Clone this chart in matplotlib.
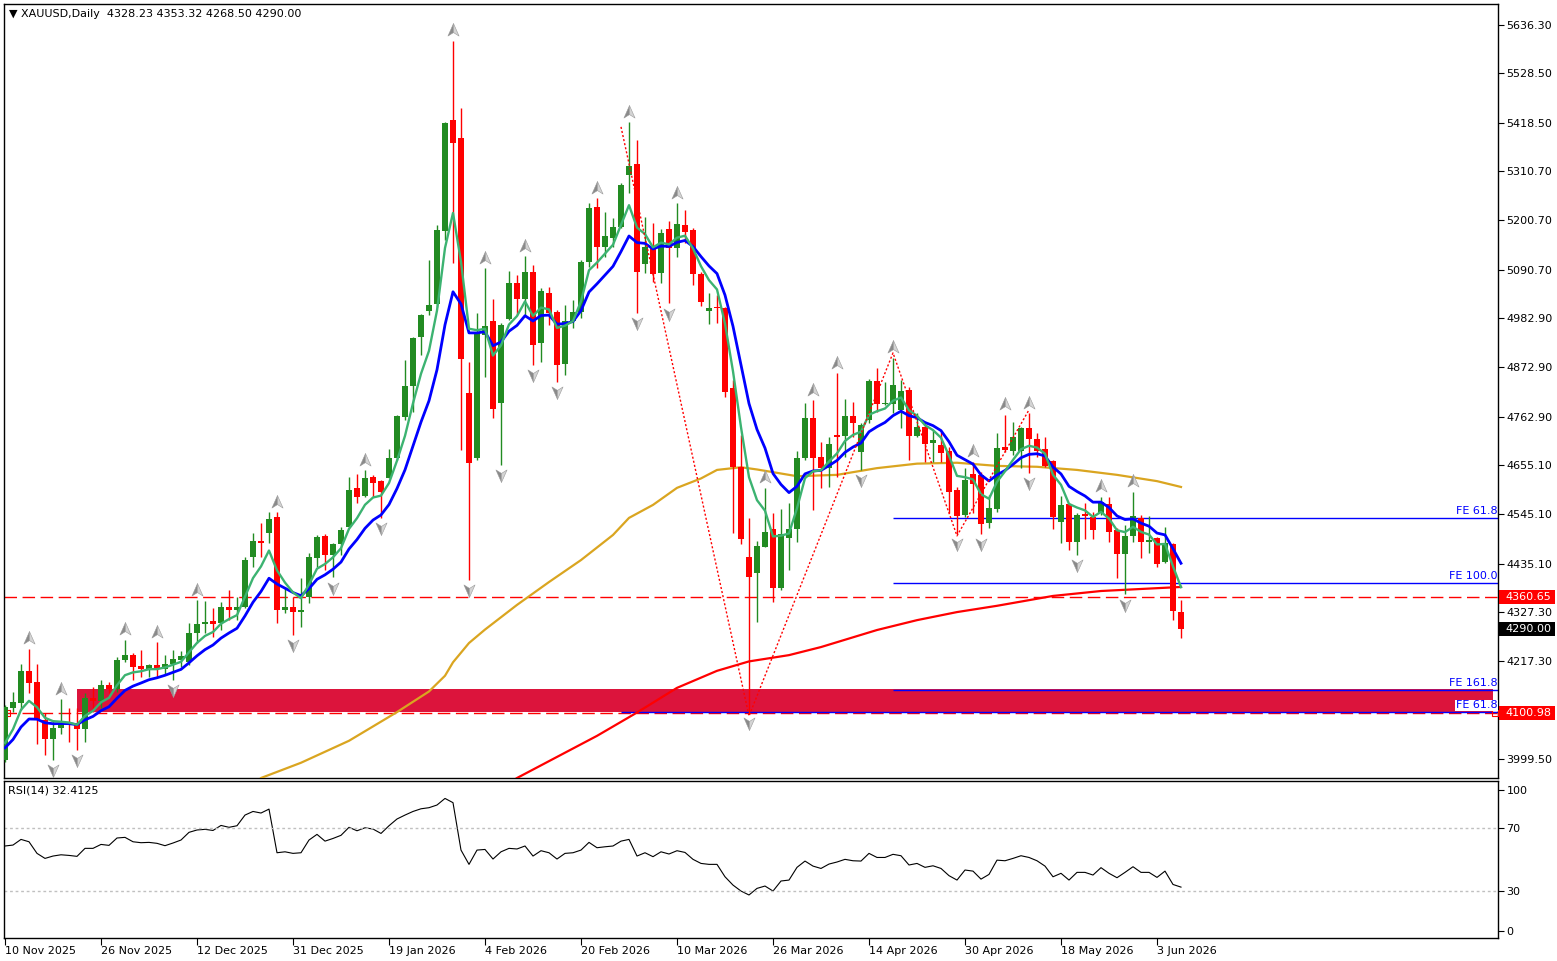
import numpy as np
import matplotlib
matplotlib.use("Agg")
import matplotlib.pyplot as plt
from matplotlib.path import Path
from matplotlib.patches import Rectangle
from matplotlib.transforms import offset_copy, blended_transform_factory

# daily candles, index 0 = 10 Nov 2025
opens = [3997, 4113, 4124, 4196, 4171, 4086, 4044, 4069, 4080, 4077,
         4066, 4135, 4129, 4164, 4156, 4220, 4231, 4207, 4200, 4209,
         4200, 4211, 4220, 4216, 4280, 4300, 4307, 4303, 4338, 4332,
         4338, 4450, 4486, 4503, 4539, 4332, 4338, 4327, 4361, 4448,
         4497, 4455, 4479, 4517, 4604, 4586, 4628, 4619, 4626, 4671,
         4762, 4831, 4940, 4998, 5014, 5177, 5424, 5384, 4816, 4671,
         4945, 4976, 4793, 4981, 5061, 5025, 5085, 4927, 5039, 4996,
         4880, 4976, 4996, 5108, 5230, 5141, 5161, 5186, 5302, 5326,
         5103, 5141, 5083, 5181, 5139, 5190, 5179, 5081, 4998, 5007,
         5005, 4827, 4651, 4450, 4414, 4472, 4512, 4381, 4492, 4512,
         4671, 4760, 4673, 4648, 4722, 4720, 4764, 4684, 4755, 4842,
         4791, 4791, 4778, 4822, 4720, 4740, 4704, 4700, 4686, 4599,
         4544, 4635, 4633, 4526, 4557, 4695, 4686, 4686, 4738, 4713,
         4691, 4664, 4528, 4568, 4483, 4546, 4539, 4548, 4568, 4510,
         4457, 4497, 4537, 4483, 4492, 4439, 4479, 4328.23]
highs = [4120, 4149, 4211, 4245, 4211, 4102, 4086, 4133, 4113, 4113,
         4147, 4160, 4176, 4171, 4227, 4265, 4236, 4243, 4211, 4260,
         4231, 4243, 4240, 4303, 4354, 4352, 4336, 4350, 4376, 4361,
         4450, 4503, 4526, 4550, 4550, 4383, 4361, 4403, 4459, 4499,
         4501, 4481, 4517, 4628, 4635, 4644, 4633, 4622, 4691, 4766,
         4889, 4940, 4992, 5112, 5190, 5420, 5601, 5451, 4885, 4994,
         5094, 5025, 4972, 5088, 5079, 5121, 5101, 5050, 5052, 5001,
         5012, 5023, 5112, 5239, 5250, 5219, 5206, 5284, 5420, 5380,
         5208, 5195, 5181, 5199, 5239, 5224, 5184, 5085, 5039, 5034,
         5007, 4845, 4722, 4537, 4486, 4604, 4548, 4557, 4570, 4686,
         4793, 4800, 4706, 4717, 4860, 4802, 4796, 4749, 4847, 4871,
         4840, 4894, 4845, 4829, 4771, 4751, 4733, 4729, 4695, 4606,
         4648, 4662, 4639, 4588, 4726, 4767, 4751, 4740, 4771, 4726,
         4717, 4666, 4586, 4570, 4548, 4570, 4550, 4584, 4584, 4515,
         4521, 4595, 4544, 4541, 4494, 4517, 4481, 4353.32]
lows = [3993, 4104, 4109, 4147, 4033, 4008, 3997, 4055, 4037, 4020,
        4037, 4104, 4113, 4147, 4149, 4216, 4176, 4182, 4182, 4182,
        4190, 4176, 4205, 4209, 4258, 4280, 4271, 4287, 4309, 4309,
        4336, 4428, 4450, 4481, 4303, 4325, 4276, 4294, 4347, 4428,
        4421, 4405, 4455, 4517, 4570, 4584, 4584, 4537, 4626, 4666,
        4755, 4773, 4900, 4990, 5007, 5157, 5105, 4688, 4399, 4666,
        4851, 4760, 4655, 4978, 4990, 4990, 4878, 4885, 4967, 4840,
        4856, 4961, 4983, 5097, 5094, 5119, 5141, 5184, 5262, 4994,
        5083, 5063, 5061, 5016, 5119, 5150, 5056, 5010, 4970, 4972,
        4807, 4503, 4479, 4102, 4305, 4472, 4350, 4376, 4421, 4483,
        4666, 4555, 4604, 4606, 4628, 4673, 4717, 4644, 4749, 4773,
        4789, 4771, 4738, 4666, 4717, 4662, 4662, 4662, 4548, 4501,
        4539, 4548, 4501, 4515, 4550, 4684, 4677, 4648, 4637, 4673,
        4651, 4512, 4481, 4466, 4455, 4490, 4490, 4544, 4483, 4403,
        4367, 4483, 4448, 4459, 4428, 4437, 4309, 4268.50]
closes = [4115, 4127, 4196, 4169, 4086, 4044, 4069, 4080, 4077, 4066,
          4135, 4129, 4164, 4156, 4220, 4231, 4205, 4200, 4209, 4200,
          4211, 4222, 4229, 4280, 4300, 4305, 4300, 4338, 4332, 4338,
          4443, 4486, 4481, 4535, 4332, 4338, 4327, 4332, 4450, 4494,
          4455, 4479, 4510, 4599, 4584, 4626, 4615, 4595, 4671, 4764,
          4831, 4938, 4990, 5012, 5179, 5418, 5373, 4891, 4660, 4949,
          4965, 4780, 4967, 5061, 5025, 5085, 4923, 5043, 4994, 4878,
          4976, 4996, 5108, 5228, 5141, 5166, 5186, 5279, 5322, 5085,
          5141, 5081, 5172, 5139, 5192, 5175, 5081, 5019, 5005, 5005,
          4818, 4651, 4490, 4405, 4474, 4506, 4381, 4501, 4512, 4671,
          4760, 4671, 4648, 4702, 4717, 4764, 4749, 4744, 4842, 4791,
          4793, 4833, 4820, 4720, 4740, 4702, 4711, 4682, 4595, 4541,
          4622, 4613, 4524, 4559, 4693, 4688, 4717, 4738, 4713, 4686,
          4653, 4539, 4566, 4483, 4544, 4541, 4510, 4573, 4506, 4457,
          4497, 4541, 4483, 4488, 4434, 4481, 4329, 4290.00]

# EMA values on the bar before the first one shown
ema5_prev = 3995
ema10_prev = 4004

# slow moving averages (bar index, price)
ma100_idx = [31, 32, 37, 43, 49, 53, 55, 56, 58, 60, 64, 68, 72, 76, 78, 81,
             84, 87, 89, 92, 94, 99, 104, 109, 114, 119, 124, 129, 134, 139, 144, 147]
ma100_val = [3940, 3957, 3991, 4040, 4104, 4150, 4185, 4215, 4258, 4288, 4343,
             4394, 4443, 4499, 4537, 4566, 4604, 4625, 4644, 4650, 4645, 4630,
             4633, 4648, 4658, 4660, 4653, 4651, 4644, 4633, 4619, 4606]
ma200_idx = [63, 64, 69, 74, 79, 84, 89, 93, 98, 102, 109, 114, 119, 124, 131, 137, 147]
ma200_val = [3945, 3957, 4004, 4051, 4103, 4158, 4196, 4217, 4231, 4249, 4287,
             4309, 4327, 4341, 4363, 4374, 4383]

rsi = [58.6, 59.2, 62.8, 61.3, 53.9, 50.7, 52.2, 53.0, 52.6, 52.0,
       57.1, 57.1, 59.6, 59.0, 63.7, 64.1, 61.3, 60.7, 60.9, 60.3,
       58.8, 60.5, 62.4, 67.3, 68.8, 69.2, 68.5, 71.7, 70.5, 71.5,
       78.3, 80.6, 79.6, 82.1, 54.3, 54.9, 53.9, 54.3, 62.4, 66.0,
       61.7, 63.4, 65.4, 70.5, 68.3, 70.2, 69.4, 66.6, 71.5, 75.8,
       78.3, 80.6, 82.3, 83.0, 84.7, 88.9, 86.2, 56.0, 46.9, 56.0,
       56.4, 50.3, 54.9, 57.1, 56.7, 58.6, 52.2, 55.6, 54.3, 50.3,
       53.9, 54.3, 56.0, 60.9, 57.5, 58.1, 58.6, 61.7, 62.8, 52.2,
       54.3, 51.8, 54.9, 53.5, 55.6, 54.5, 50.1, 47.5, 46.9, 46.9,
       39.0, 33.7, 29.9, 27.4, 31.6, 33.1, 29.9, 36.3, 36.9, 45.0,
       49.0, 45.8, 44.3, 47.1, 48.4, 50.1, 49.2, 49.0, 53.9, 51.3,
       51.3, 53.3, 52.4, 46.5, 47.5, 45.0, 46.0, 44.3, 39.7, 36.9,
       43.3, 42.6, 37.5, 40.5, 49.6, 49.2, 50.7, 52.4, 51.3, 49.2,
       45.8, 39.0, 41.2, 36.9, 41.8, 41.8, 40.1, 44.8, 41.2, 38.4,
       41.8, 45.4, 41.8, 41.8, 38.6, 42.6, 34.1, 32.41]

up_fractals = [3, 7, 15, 19, 24, 34, 45, 56, 60, 65, 74, 78, 84, 95, 101, 104,
               111, 121, 125, 128, 137, 141]
down_fractals = [6, 9, 21, 36, 41, 47, 58, 62, 66, 69, 79, 83, 93, 107, 119,
                 122, 128, 134, 140]

zigzag_idx = [77, 93, 111, 119, 128]
zigzag_val = [5409, 4095, 4905, 4497, 4778]

fe_levels = [4537, 4392, 4153, 4104]
fe_names = ["FE 61.8", "FE 100.0", "FE 161.8", "FE 61.8"]
fe_start = [111, 111, 111, 77]

zone_low, zone_high = 4104, 4156
line_a, line_b = 4360.65, 4100.98

price_ticks = [5636.30, 5528.50, 5418.50, 5310.70, 5200.70, 5090.70, 4982.90,
               4872.90, 4762.90, 4655.10, 4545.10, 4435.10, 4327.30, 4217.30,
               4107.30, 3999.50]
date_idx = [0, 12, 24, 36, 48, 60, 72, 84, 96, 108, 120, 132, 144]
date_labels = ["10 Nov 2025", "26 Nov 2025", "12 Dec 2025", "31 Dec 2025",
               "19 Jan 2026", "4 Feb 2026", "20 Feb 2026", "10 Mar 2026",
               "26 Mar 2026", "14 Apr 2026", "30 Apr 2026", "18 May 2026",
               "3 Jun 2026"]


def ema(values, period, prev):
    a = 2.0 / (period + 1)
    out = []
    e = prev
    for v in values:
        e = e + a * (v - e)
        out.append(e)
    return out


def half_arrow(side, direction):
    # one half of an MT4 style fractal arrow, side -1 left / +1 right
    s, d = side, direction
    verts = [(0, d * 1), (s * 0.8, -d * 0.8), (0, -d * 0.3), (0, d * 1)]
    return Path(verts, [Path.MOVETO, Path.LINETO, Path.LINETO, Path.CLOSEPOLY])


W, H = 1557, 961
fig = plt.figure(figsize=(W / 100, H / 100), dpi=100)
ax = fig.add_axes([4 / W, 1 - 778 / H, 1494 / W, 774 / H])
rax = fig.add_axes([4 / W, 1 - 938 / H, 1494 / W, 157 / H])

x = np.arange(len(closes))
o = np.array(opens, float)
c = np.array(closes, float)
h = np.array(highs, float)
l = np.array(lows, float)
up = c >= o
col = np.where(up, "#228B22", "#FF0000")

# zone and level lines
ax.add_patch(Rectangle((9, zone_low), 177, zone_high - zone_low,
                       color="#DC143C", lw=0, zorder=1))
ax.axhline(line_a, color="red", lw=1, ls=(0, (9, 4)), zorder=2)
ax.axhline(line_b, color="red", lw=1, ls=(0, (9, 4)), zorder=2)
ax.plot([0.25, 186.3], [line_b, line_b], ls="none", marker="s", ms=4,
        mfc="none", mec="red", mew=0.8, zorder=3)
for lev, name, st in zip(fe_levels, fe_names, fe_start):
    ax.hlines(lev, st, 190, color="#0000FF", lw=1, zorder=2)

# moving averages
ax.plot(ma100_idx, ma100_val, color="#DAA520", lw=1.6, zorder=3)
ax.plot(ma200_idx, ma200_val, color="red", lw=1.6, zorder=3)

# candles
ax.vlines(x, l, h, color=col, lw=1, zorder=4)
body = np.maximum(np.abs(c - o), 2.5)
ax.bar(x, body, bottom=np.minimum(o, c), width=0.68, color=col, lw=0, zorder=5)

ax.plot(x, ema(closes, 10, ema10_prev), color="#0000FF", lw=2.0, zorder=6)
ax.plot(x, ema(closes, 5, ema5_prev), color="#3CB371", lw=1.7, zorder=6)

# zigzag
ax.plot(zigzag_idx, zigzag_val, color="red", lw=1, ls=(0, (1.5, 1.5)), zorder=6)

# fractal arrows
tr_up = offset_copy(ax.transData, fig=fig, y=7.5, units="points")
tr_dn = offset_copy(ax.transData, fig=fig, y=-7.5, units="points")
for side, shade in [(-1, "#8a8a8a"), (1, "#d4d4d4")]:
    ax.plot(up_fractals, h[up_fractals], ls="none", marker=half_arrow(side, 1),
            ms=10, mfc=shade, mec="#9a9a9a", mew=0.4, transform=tr_up, zorder=7)
    ax.plot(down_fractals, l[down_fractals], ls="none", marker=half_arrow(side, -1),
            ms=10, mfc=shade, mec="#9a9a9a", mew=0.4, transform=tr_dn, zorder=7)

ax.set_xlim(-0.125, 186.625)
ax.set_ylim(3957, 5683)
ax.set_xticks([])
ax.yaxis.tick_right()
ax.set_yticks(price_ticks)
ax.set_yticklabels([f"{t:.2f}" for t in price_ticks])
ax.tick_params(axis="y", direction="out", length=4, labelsize=8, pad=2)

tb = blended_transform_factory(ax.transAxes, ax.transData)
for lev, name in zip(fe_levels, fe_names):
    kw = {}
    if lev == fe_levels[3]:
        kw = dict(bbox=dict(fc="white", ec="none", pad=0.5))
    ax.text(0.9995, lev + 4, name, transform=tb, ha="right", va="bottom",
            color="#0000FF", fontsize=8, zorder=9, **kw)

# price boxes on the right scale
fb = blended_transform_factory(fig.transFigure, ax.transData)
for val, fc in [(line_a, "red"), (closes[-1], "black"), (line_b, "red")]:
    box = Rectangle((1499 / W, val - 15.5), 56 / W, 31, transform=fb,
                    color=fc, lw=0, zorder=20)
    fig.add_artist(box)
    fig.text(1505 / W, val, f"{val:.2f}", transform=fb, ha="left", va="center",
             color="white", fontsize=8, zorder=21)

fig.text(9 / W, 1 - 14 / H, "\u25bc XAUUSD,Daily  4328.23 4353.32 4268.50 4290.00",
         fontsize=8, va="center", ha="left")

# RSI window
rax.plot(x, rsi, color="black", lw=0.8)
for lv in (70, 30):
    rax.axhline(lv, color="#c0c0c0", lw=1, ls=(0, (2, 2)))
rax.set_xlim(-0.125, 186.625)
rax.set_ylim(0, 100)
rax.yaxis.tick_right()
rax.set_yticks([4.5, 30, 70, 94.3])
rax.set_yticklabels(["0", "30", "70", "100"])
rax.tick_params(axis="y", direction="out", length=4, labelsize=8, pad=2)
rax.set_xticks(date_idx)
rax.set_xticklabels(date_labels)
rax.tick_params(axis="x", direction="out", length=5, labelsize=8, pad=1)
for lbl in rax.get_xticklabels():
    lbl.set_ha("left")
rax.text(0.003, 0.94, "RSI(14) 32.4125", transform=rax.transAxes, fontsize=8,
         va="center", ha="left")

for a in (ax, rax):
    for s in a.spines.values():
        s.set_color("black")
        s.set_linewidth(1)

fig.savefig("out.png", dpi=100)
